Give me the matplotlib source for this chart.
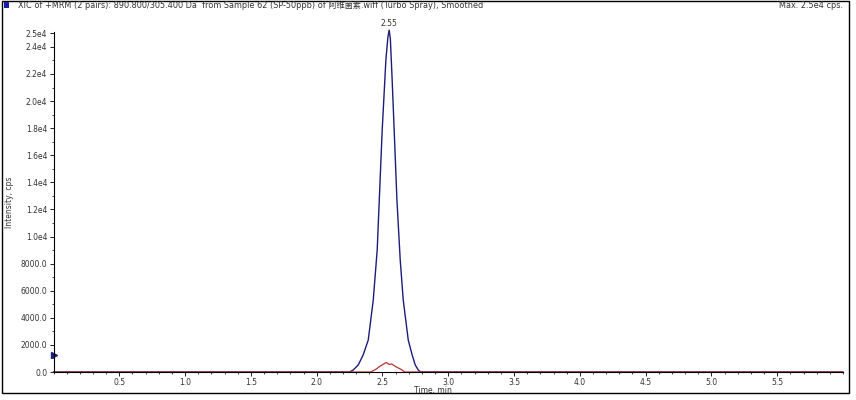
import matplotlib
matplotlib.use('Agg')
import matplotlib.pyplot as plt
from matplotlib.patches import Rectangle
from matplotlib.ticker import MultipleLocator, FixedLocator

plt.rcParams['font.family'] = ['DejaVu Sans', 'Noto Sans CJK SC']

# blue trace (890.8/305.4)
t_blue = [0.0, 2.25, 2.278, 2.316, 2.353, 2.392, 2.430, 2.460, 2.498, 2.526, 2.541, 2.551,
          2.560, 2.574, 2.589, 2.610, 2.635, 2.658, 2.696, 2.726, 2.749, 2.772, 2.79, 6.0]
i_blue = [0, 0, 150, 520, 1250, 2360, 5310, 9000, 17860, 23030, 24700, 25240,
          24600, 21500, 17860, 12690, 8270, 5310, 2360, 1250, 520, 150, 0, 0]

# red trace (second transition)
t_red = [0.0, 2.41, 2.45, 2.48, 2.51, 2.53, 2.55, 2.57, 2.60, 2.64, 2.67, 6.0]
i_red = [0, 0, 200, 420, 600, 700, 560, 590, 400, 200, 0, 0]

y_ticks = [0, 2000, 4000, 6000, 8000, 10000, 12000, 14000, 16000, 18000, 20000, 22000, 24000, 25000]
y_labels = ['0.0', '2000.0', '4000.0', '6000.0', '8000.0', '1.0e4', '1.2e4', '1.4e4',
            '1.6e4', '1.8e4', '2.0e4', '2.2e4', '2.4e4', '2.5e4']
x_ticks = [0.5, 1.0, 1.5, 2.0, 2.5, 3.0, 3.5, 4.0, 4.5, 5.0, 5.5]

title = 'XIC of +MRM (2 pairs): 890.800/305.400 Da  from Sample 62 (SP-50ppb) of 阿维菌素.wiff (Turbo Spray), Smoothed'
apex_label = '2.55'
threshold = 1250

txt = '#333333'
fig = plt.figure(figsize = (8.56, 4), dpi = 100)
ax = fig.add_axes([53.5 / 856, 28 / 400, (843 - 53.5) / 856, (372 - 32) / 400])

ax.plot(t_blue, i_blue, color = '#1c1c7a', lw = 1.0, clip_on = False)
ax.plot(t_red, i_red, color = '#b8322a', lw = 0.9)
ax.text(2.55, 25400, apex_label, ha = 'center', va = 'bottom', fontsize = 5.5, color = txt)
ax.plot([0], [threshold], marker = '>', color = '#1c1c7a', markersize = 5, clip_on = False)

ax.set_xlim(0, 6.0)
ax.set_ylim(0, 25100)
for s in ['top', 'right']:
    ax.spines[s].set_visible(False)
for s in ['left', 'bottom']:
    ax.spines[s].set_linewidth(0.8)

ax.yaxis.set_major_locator(FixedLocator(y_ticks))
ax.set_yticklabels(y_labels)
ax.yaxis.set_minor_locator(MultipleLocator(1000))
ax.xaxis.set_major_locator(FixedLocator(x_ticks))
ax.set_xticklabels(['%.1f' % v for v in x_ticks])
ax.xaxis.set_minor_locator(MultipleLocator(0.1))
ax.tick_params(which = 'major', length = 3, width = 0.6, labelsize = 5.5, labelcolor = txt, pad = 1.5)
ax.tick_params(axis = 'x', which = 'major', pad = 1)
ax.tick_params(which = 'minor', length = 1.5, width = 0.5)

ax.set_xlabel('Time, min', fontsize = 5.5, color = txt)
ax.xaxis.set_label_coords(0.48, -0.042)
ax.set_ylabel('Intensity, cps', fontsize = 5.5, color = txt)
ax.yaxis.set_label_coords(-0.05, 0.5)

# outer frame and header
fig.add_artist(Rectangle((2 / 856, 7 / 400), 847 / 856, 392 / 400, transform = fig.transFigure,
                         fill = False, edgecolor = 'black', lw = 1.0))
fig.add_artist(Rectangle((4 / 856, 392 / 400), 5 / 856, 6 / 400, transform = fig.transFigure,
                         facecolor = '#1c1ca0', edgecolor = 'none'))
fig.text(18 / 856, 395 / 400, title, fontsize = 5.9, color = txt, va = 'center', ha = 'left')
fig.text(843 / 856, 395 / 400, 'Max. 2.5e4 cps.', fontsize = 5.9, color = txt, va = 'center', ha = 'right')

fig.savefig('out.png', dpi = 100)
